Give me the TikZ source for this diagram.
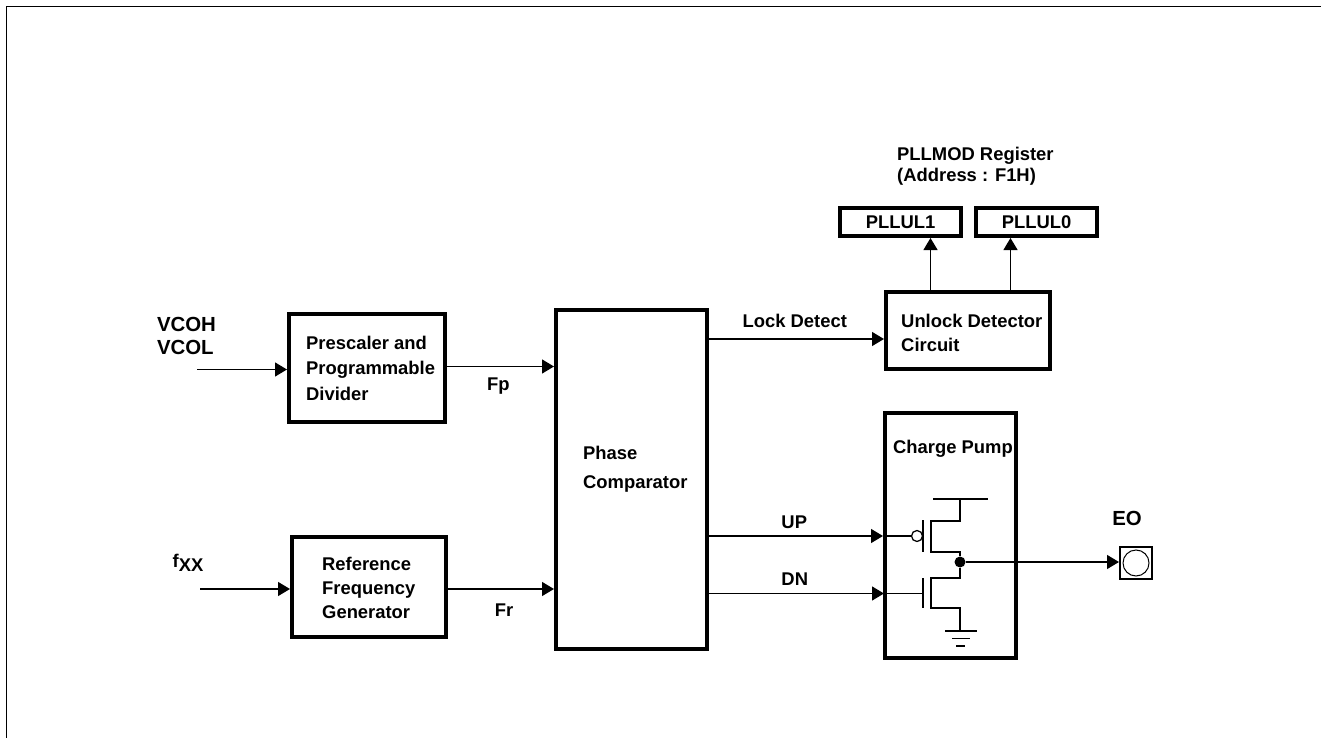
\documentclass[tikz,border=0pt]{standalone}
\usepackage{fontspec}
\setmainfont{Liberation Sans}
\usetikzlibrary{positioning, arrows.meta}

\begin{document}
\begin{tikzpicture}[
    x=1pt, y=-1pt,
    block/.style={
        rectangle, draw=black, line width=4pt, inner sep=0pt,
        align=center,
        font=\fontsize{18.4}{24}\bfseries\selectfont
    },
    regbox/.style={block, minimum width=121pt, minimum height=28pt},
    tag/.style={inner sep=0pt, align=left, font=\fontsize{18.4}{24.5}\bfseries\selectfont},
    bigtag/.style={inner sep=0pt, align=left, font=\fontsize{20.4}{23}\bfseries\selectfont},
    wire/.style={draw=black, line width=1.25pt},
    flow/.style={-{Triangle[length=12pt, width=14pt]}, wire}
]

% ============ Frame ============
\useasboundingbox (0,0) rectangle (1321,738);
\draw[line width=1pt] (6.5,738) -- (6.5,6.5) -- (1321,6.5);

% ============ Main blocks ============
\node[block, minimum width=151pt, minimum height=339pt] (phase) at (631.5,479.5) {};
\node[tag, right=29pt of phase.west, yshift=10.5pt, anchor=west, font=\fontsize{18.4}{29}\bfseries\selectfont] (phasetext) {Phase\\Comparator};

\node[block, minimum width=156pt, minimum height=108pt, left=107pt of phase, yshift=111.5pt] (prescaler) {};
\node[tag, right=19pt of prescaler.west, anchor=west, font=\fontsize{18.4}{25.5}\bfseries\selectfont] (prescalertext) {Prescaler and\\Programmable\\Divider};

\node[block, minimum width=154pt, minimum height=100pt, left=106pt of phase, yshift=-107.5pt] (reference) {};
\node[tag, right=32pt of reference.west, yshift=-1pt, anchor=west, font=\fontsize{18.4}{24}\bfseries\selectfont] (referencetext) {Reference\\Frequency\\Generator};

\node[block, minimum width=164pt, minimum height=77pt, right=175pt of phase, yshift=149pt] (unlock) {};
\node[tag, right=17pt of unlock.west, yshift=-2.5pt, anchor=west] (unlocktext) {Unlock Detector\\Circuit};

\node[regbox, above=52pt of unlock, xshift=-67.5pt] (pllul1) {PLLUL1};
\node[regbox, right=11pt of pllul1] (pllul0) {PLLUL0};
\node[tag, above=20.5pt of pllul1.north west, xshift=59pt, anchor=south west, font=\fontsize{18.4}{21}\bfseries\selectfont] (pllmod) {PLLMOD Register\\(Address : F1H)};

\node[block, minimum width=131pt, minimum height=245pt, below=40pt of unlock, xshift=-17.5pt] (pump) {};
\node[tag, below=29pt of pump.north, xshift=2.5pt] (pumptext) {Charge Pump};

% ============ Output pad ============
\node[rectangle, draw=black, line width=2pt, inner sep=0pt, minimum size=32pt, right=101pt of pump, yshift=-27.5pt] (eopad) {};
\node[circle, draw=black, line width=1pt, inner sep=0pt, minimum size=26pt] (eoring) at (eopad.center) {};
\node[bigtag, above=20pt of eopad, xshift=-9pt] (eo) {EO};

% ============ Inputs ============
\node[bigtag] (vco) at (186.5,335.5) {VCOH\\VCOL};
\node[tag] (fxx) at (188,563) {f\raisebox{-4pt}{XX}};
\coordinate (vcoin) at (197,369.5);
\coordinate (fxxin) at (200,589);
\coordinate (fpout) at (447,366.5);
\coordinate (frout) at (448,589);

% ============ Transistor pair ============
\node[circle, fill=black, inner sep=0pt, minimum size=11pt] (outnode) at (960,562) {};
\node[circle, draw=black, wire, inner sep=0pt, minimum size=11pt] (upgate) at (917,536) {};
\coordinate (upin) at (pump.west |- upgate);
\coordinate (dnin) at (884,593.5);
\coordinate (lockin) at (884,339);
\coordinate (tapa) at (930.5,291);
\coordinate (tapb) at (1010.5,291);

\draw[wire] (933,499) -- (988,499);
\draw[wire] (960,499) -- (960,521) -- (931,521) -- (931,552) -- (960,552) -- (outnode);
\draw[wire] (outnode) -- (960,578) -- (931,578) -- (931,608) -- (960,608) -- (960,631);
\draw[wire] (923,520) -- (923,552);
\draw[wire] (923,578) -- (923,608);
\draw[wire] (945,631) -- (977,631);
\draw[wire] (952,638.5) -- (970,638.5);
\draw[wire] (956,646) -- (965,646);

% ============ Flow ============
\draw[flow] (vcoin) -- (prescaler.west |- vcoin);
\draw[flow] (fxxin) -- (reference.west |- fxxin);
\draw[flow] (fpout) -- node[tag, pos=.48, below=11pt] {Fp} (phase.west |- fpout);
\draw[flow] (frout) -- node[tag, pos=.53, below=14pt] {Fr} (phase.west |- frout);
\draw[flow] (phase.east |- lockin) -- node[tag, pos=.49, above=11pt] {Lock Detect} (lockin);
\draw[flow] (phase.east |- upin) -- node[tag, pos=.49, above=7pt] {UP} (upin);
\draw[flow] (phase.east |- dnin) -- node[tag, pos=.49, above=7pt] {DN} (dnin);
\draw[wire] (upin) -- (upgate.west);
\draw[wire] (dnin) -- (923,593.5);
\draw[flow] (outnode) -- (eopad.west |- outnode);
\draw[flow] (tapa) -- (pllul1.south -| tapa);
\draw[flow] (tapb) -- (pllul0.south -| tapb);

\end{tikzpicture}
\end{document}
